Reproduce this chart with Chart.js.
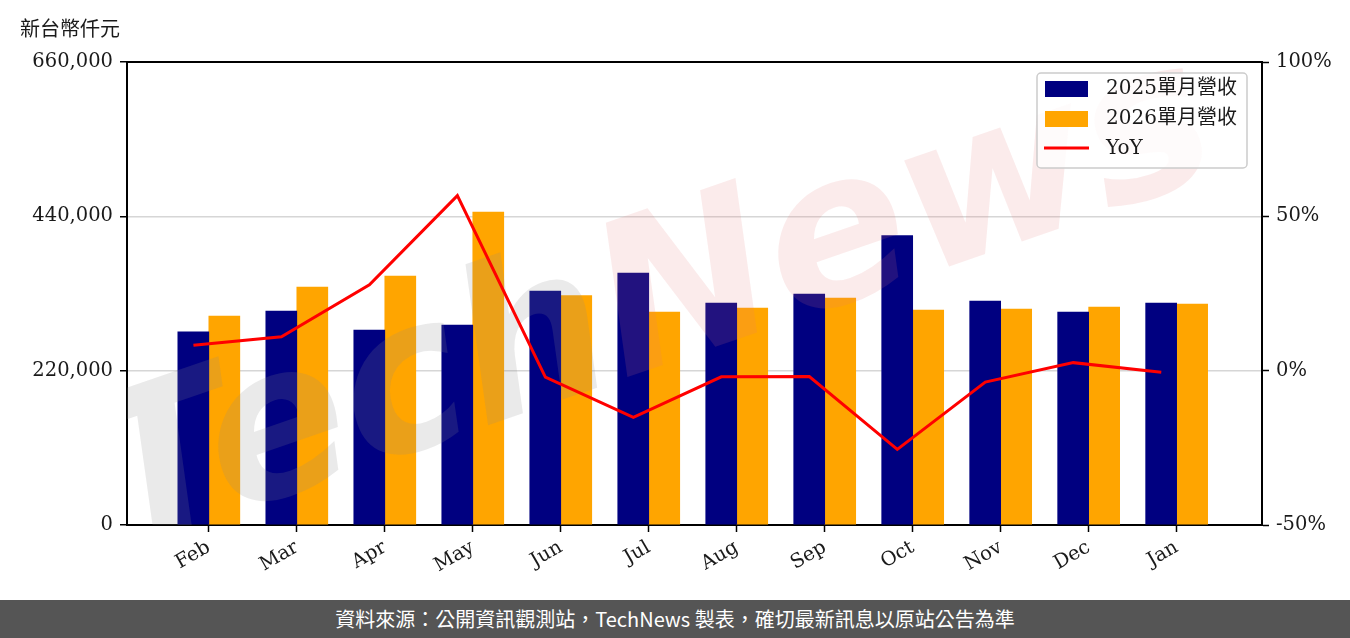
<!DOCTYPE html>
<html><head><meta charset="utf-8">
<script src="https://cdn.jsdelivr.net/npm/chart.js@4.4.1/dist/chart.umd.min.js"></script>
<style>
html,body{margin:0;padding:0;background:#fff;width:1350px;height:638px;overflow:hidden}
#wrap{position:relative;width:1350px;height:600px}
#footer{position:absolute;left:0;top:600px;width:1350px;height:38px;background:#555555;color:#fff;font:20px 'Noto Sans CJK TC','Noto Sans',sans-serif;text-align:center;line-height:38px;white-space:nowrap}
</style></head><body>
<div id="wrap"><canvas id="c" width="1350" height="600"></canvas></div>
<div id="footer">資料來源：公開資訊觀測站，TechNews 製表，確切最新訊息以原站公告為準</div>
<script>
const months = ['Feb','Mar','Apr','May','Jun','Jul','Aug','Sep','Oct','Nov','Dec','Jan'];
const revenue2025 = [275500, 305100, 278000, 285100, 333600, 359200, 316500, 329300, 412400, 319300, 303600, 316500];
const revenue2026 = [297900, 339300, 354900, 446200, 326900, 303600, 309300, 323600, 306500, 307900, 310800, 315000];
const yoyPercent = [8.2, 11.0, 27.8, 56.7, -2.1, -15.1, -2.0, -1.9, -25.5, -3.7, 2.6, -0.5];
const leftTicks = [0, 220000, 440000, 660000];
const rightTicks = [-50, 0, 50, 100];
const seriesNames = ['2025單月營收', '2026單月營收', 'YoY'];
const unitLabel = '新台幣仟元';

const tickFont = {family: "'DejaVu Serif', 'Noto Sans CJK TC', serif", size: 19.5};
const tickColor = '#1a1a1a';

const framePlugin = {
  id: 'frame',
  beforeDatasetDraw(chart, args) {
    if (args.index !== 2) return;
    const ctx = chart.ctx, a = chart.chartArea;
    ctx.save();
    ctx.beginPath(); ctx.rect(a.left, a.top, a.right - a.left, a.bottom - a.top); ctx.clip();
    ctx.translate(655, 310);
    ctx.rotate(-19 * Math.PI / 180);
    ctx.font = "bold italic 210px 'DejaVu Sans', sans-serif";
    ctx.textBaseline = 'middle';
    const w1 = ctx.measureText('Tech').width, w2 = ctx.measureText('News').width;
    const x0 = -(w1 + w2) / 2;
    ctx.fillStyle = 'rgba(140,140,140,0.18)';
    ctx.fillText('Tech', x0, 0);
    ctx.fillStyle = 'rgba(225,120,120,0.15)';
    ctx.fillText('News', x0 + w1, 0);
    ctx.restore();
  },
  afterDraw(chart) {
    const ctx = chart.ctx, a = chart.chartArea;
    ctx.save();
    ctx.strokeStyle = '#000'; ctx.lineWidth = 2;
    ctx.beginPath(); ctx.moveTo(a.left - 1, a.top); ctx.lineTo(a.right + 1, a.top); ctx.stroke();
    ctx.fillStyle = tickColor;
    ctx.font = "20px 'Noto Sans CJK TC', sans-serif";
    ctx.textBaseline = 'middle'; ctx.textAlign = 'left';
    ctx.fillText(unitLabel, 20, 28);
    const bx = 1037, by = 73, bw = 210, bh = 95;
    ctx.fillStyle = 'rgba(255,255,255,0.8)';
    ctx.strokeStyle = '#cccccc'; ctx.lineWidth = 1.5;
    ctx.beginPath();
    if (ctx.roundRect) ctx.roundRect(bx, by, bw, bh, 4); else ctx.rect(bx, by, bw, bh);
    ctx.fill(); ctx.stroke();
    ctx.font = "20px 'DejaVu Serif', 'Noto Sans CJK TC', serif";
    const ds = chart.data.datasets;
    for (let i = 0; i < 3; i++) {
      const cy = 89 + i * 30;
      if (ds[i].type === 'line') {
        ctx.strokeStyle = ds[i].borderColor; ctx.lineWidth = 3;
        ctx.beginPath(); ctx.moveTo(1044, cy - 1); ctx.lineTo(1089, cy - 1); ctx.stroke();
      } else {
        ctx.fillStyle = ds[i].backgroundColor;
        ctx.fillRect(1045, cy - 8, 43, 16);
      }
      ctx.fillStyle = tickColor;
      ctx.fillText(ds[i].label, 1106, cy);
    }
    ctx.restore();
  }
};

const ctx = document.getElementById('c').getContext('2d');
new Chart(ctx, {
  data: {
    datasets: [
      {type: 'bar', label: seriesNames[0], data: months.map((m, i) => ({x: i, y: revenue2025[i]})),
       backgroundColor: '#000080', barThickness: 31, yAxisID: 'y', xAxisID: 'x', order: 1},
      {type: 'bar', label: seriesNames[1], data: months.map((m, i) => ({x: i, y: revenue2026[i]})),
       backgroundColor: '#FFA500', barThickness: 31, yAxisID: 'y', xAxisID: 'x', order: 1},
      {type: 'line', label: seriesNames[2], data: months.map((m, i) => ({x: i - 0.175, y: yoyPercent[i]})),
       borderColor: '#FF0000', borderWidth: 3, pointRadius: 0, tension: 0, fill: false,
       yAxisID: 'y1', xAxisID: 'x', order: 0}
    ]
  },
  options: {
    responsive: false,
    devicePixelRatio: 1,
    animation: false,
    layout: {padding: {top: 62, left: 0, right: 0, bottom: 0}},
    plugins: {legend: {display: false}, tooltip: {enabled: false}, title: {display: false}},
    scales: {
      x: {
        type: 'linear', position: 'bottom', min: -0.93, max: 11.97, offset: false, bounds: 'data',
        afterBuildTicks: s => { s.ticks = months.map((m, i) => ({value: i})); },
        afterFit: s => { s.height = 75; },
        ticks: {callback: v => months[v], font: tickFont, color: tickColor, minRotation: 30, maxRotation: 30, padding: 4, autoSkip: false, includeBounds: false},
        grid: {offset: false, drawOnChartArea: false, tickLength: 7, tickWidth: 1.5, tickColor: '#000'},
        border: {color: '#000', width: 2}
      },
      y: {
        type: 'linear', position: 'left', min: 0, max: 660000,
        afterBuildTicks: s => { s.ticks = leftTicks.map(v => ({value: v})); },
        afterFit: s => { s.width = 127; },
        ticks: {callback: v => v.toLocaleString('en-US'), font: tickFont, color: tickColor, padding: 7},
        grid: {color: '#d6d6d6', lineWidth: 1.5, tickLength: 7, tickWidth: 1.5, tickColor: '#000'},
        border: {color: '#000', width: 2}
      },
      y1: {
        type: 'linear', position: 'right', min: -50, max: 100,
        afterBuildTicks: s => { s.ticks = rightTicks.map(v => ({value: v})); },
        afterFit: s => { s.width = 88; },
        ticks: {callback: v => v + '%', font: tickFont, color: tickColor, padding: 7},
        grid: {drawOnChartArea: false, tickLength: 7, tickWidth: 1.5, tickColor: '#000'},
        border: {color: '#000', width: 2}
      }
    }
  },
  plugins: [framePlugin]
});
</script>
</body></html>
